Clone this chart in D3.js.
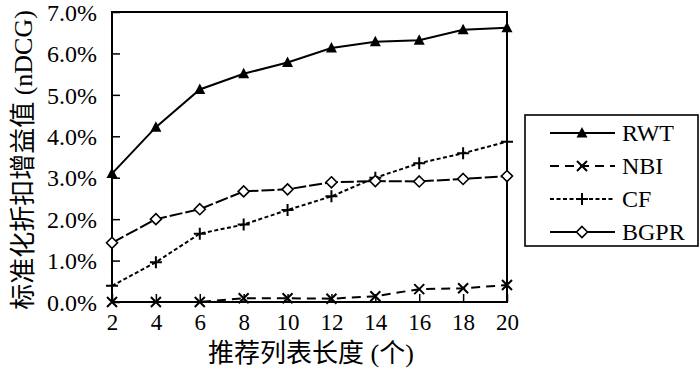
<!DOCTYPE html>
<html>
<head>
<meta charset="utf-8">
<script src="https://cdn.jsdelivr.net/npm/d3@7"></script>
<style>
  body { margin: 0; background: #fff; }
</style>
</head>
<body>
<svg id="chart" width="700" height="373"></svg>
<script>
// list lengths on the x axis
var lengths = [2, 4, 6, 8, 10, 12, 14, 16, 18, 20];
// nDCG gain values, in percent
var rwt  = [3.10, 4.22, 5.13, 5.51, 5.78, 6.13, 6.28, 6.32, 6.57, 6.62];
var nbi  = [0.00, 0.00, 0.00, 0.09, 0.09, 0.08, 0.14, 0.31, 0.33, 0.41];
var cf   = [0.39, 0.96, 1.65, 1.87, 2.22, 2.55, 3.00, 3.35, 3.59, 3.87];
var bgpr = [1.43, 2.00, 2.24, 2.67, 2.72, 2.89, 2.92, 2.91, 2.97, 3.04];
var seriesNames = ["RWT", "NBI", "CF", "BGPR"];
var yTicks = [0, 1, 2, 3, 4, 5, 6, 7];

var series = [
  { name: "RWT",  values: rwt,  dash: null,    legendDash: null,    marker: "triangle" },
  { name: "NBI",  values: nbi,  dash: "9,6",   legendDash: "9,6",   marker: "cross" },
  { name: "CF",   values: cf,   dash: "4,2.5", legendDash: "4,2.5", marker: "plus" },
  { name: "BGPR", values: bgpr, dash: "13,3",  legendDash: null,    marker: "diamond" }
];

var FONT = "'Liberation Serif', 'DejaVu Serif', 'Noto Sans CJK SC', serif";

var margin = { left: 112, top: 12, right: 507, bottom: 302 };

var svg = d3.select("#chart");

var x = d3.scaleLinear().domain([2, 20]).range([margin.left, margin.right]);
var y = d3.scaleLinear().domain([0, 7]).range([margin.bottom, margin.top]);

// frame
svg.append("rect")
  .attr("x", margin.left).attr("y", margin.top)
  .attr("width", margin.right - margin.left)
  .attr("height", margin.bottom - margin.top)
  .attr("fill", "none").attr("stroke", "#000").attr("stroke-width", 2);

// axes with inward ticks
var yAxis = svg.append("g")
  .attr("transform", "translate(" + margin.left + ",0)")
  .call(d3.axisLeft(y).tickValues(yTicks).tickSizeInner(-8).tickSizeOuter(0).tickPadding(15)
    .tickFormat(function(d) { return d3.format(".1f")(d) + "%"; }));
yAxis.attr("font-family", FONT).attr("font-size", 24);
yAxis.select(".domain").remove();
yAxis.selectAll(".tick line").attr("stroke-width", 1.5);
yAxis.selectAll("text").style("font-family", FONT).attr("dy", "0.34em");

var xAxis = svg.append("g")
  .attr("transform", "translate(0," + margin.bottom + ")")
  .call(d3.axisBottom(x).tickValues(lengths).tickSizeInner(-8).tickSizeOuter(0).tickPadding(12));
xAxis.attr("font-family", FONT).attr("font-size", 23);
xAxis.select(".domain").remove();
xAxis.selectAll(".tick line").attr("stroke-width", 1.5);
xAxis.selectAll("text").style("font-family", FONT).attr("dy", "0.71em");

// axis titles
svg.append("text")
  .attr("x", 311).attr("y", 362)
  .attr("text-anchor", "middle")
  .style("font-family", FONT)
  .style("font-size", "26px")
  .text("推荐列表长度 (个)");

svg.append("text")
  .attr("transform", "translate(32,160) rotate(-90)")
  .attr("text-anchor", "middle")
  .style("font-family", FONT)
  .style("font-size", "26px")
  .text("标准化折扣增益值 (nDCG)");

// marker drawing
function drawMarker(g, type) {
  if (type === "triangle") {
    g.append("path").attr("d", "M0,-6L5.5,4.5L-5.5,4.5Z").attr("fill", "#000");
  } else if (type === "diamond") {
    g.append("path").attr("d", "M0,-5.5L5.5,0L0,5.5L-5.5,0Z")
      .attr("fill", "#fff").attr("stroke", "#000").attr("stroke-width", 1.6);
  } else if (type === "cross") {
    g.append("path").attr("d", "M-5,-5L5,5M-5,5L5,-5")
      .attr("stroke", "#000").attr("stroke-width", 2);
  } else if (type === "plus") {
    g.append("path").attr("d", "M-6,0L6,0M0,-6L0,6")
      .attr("stroke", "#000").attr("stroke-width", 2);
  }
}

var line = d3.line()
  .x(function(d, i) { return x(lengths[i]); })
  .y(function(d) { return y(d); });

series.forEach(function(s) {
  svg.append("path")
    .datum(s.values)
    .attr("d", line)
    .attr("fill", "none")
    .attr("stroke", "#000")
    .attr("stroke-width", 2)
    .attr("stroke-dasharray", s.dash);
});

series.forEach(function(s) {
  s.values.forEach(function(v, i) {
    var g = svg.append("g").attr("transform", "translate(" + x(lengths[i]) + "," + y(v) + ")");
    drawMarker(g, s.marker);
  });
});

// legend
var legend = svg.append("g");
legend.append("rect")
  .attr("x", 525).attr("y", 115).attr("width", 173).attr("height", 131)
  .attr("fill", "#fff").attr("stroke", "#000").attr("stroke-width", 1.6);

var legendY = d3.scalePoint().domain(seriesNames).range([133, 232]);

series.forEach(function(s) {
  var ly = legendY(s.name);
  legend.append("line")
    .attr("x1", 550).attr("x2", 615).attr("y1", ly).attr("y2", ly)
    .attr("stroke", "#000").attr("stroke-width", 2)
    .attr("stroke-dasharray", s.legendDash);
  drawMarker(legend.append("g").attr("transform", "translate(582," + ly + ")"), s.marker);
  legend.append("text")
    .attr("x", 622).attr("y", ly).attr("dy", "0.35em")
    .style("font-family", FONT)
    .style("font-size", "24px")
    .text(s.name);
});
</script>
</body>
</html>
